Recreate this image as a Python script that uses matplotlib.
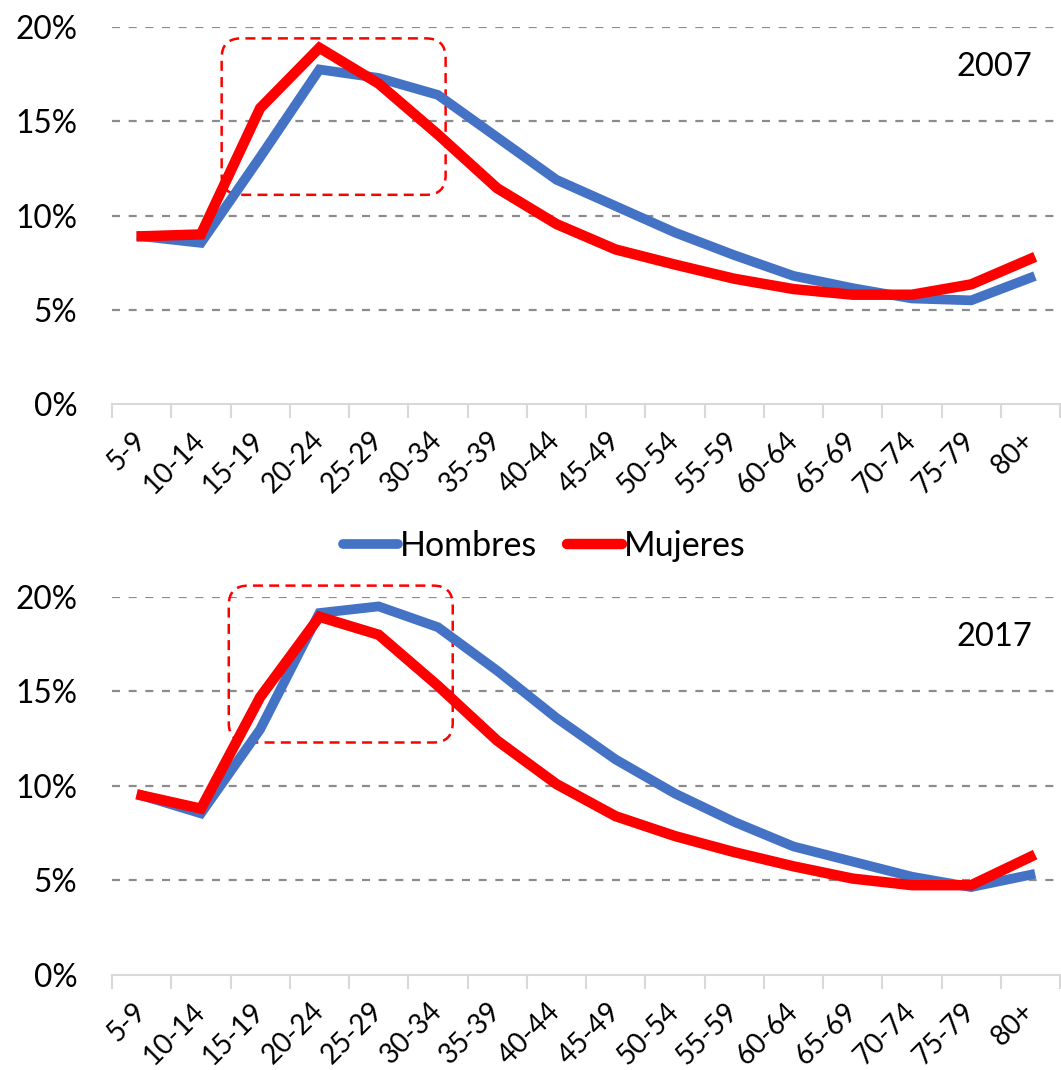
import numpy as np
import matplotlib
matplotlib.use("Agg")
import matplotlib.pyplot as plt
from matplotlib.patches import FancyBboxPatch

plt.rcParams['font.family'] = ['Lato', 'DejaVu Sans']

# Datos
grupos = ['5-9', '10-14', '15-19', '20-24', '25-29', '30-34', '35-39', '40-44',
          '45-49', '50-54', '55-59', '60-64', '65-69', '70-74', '75-79', '80+']

hombres_2007 = [8.9, 8.55, 13.1, 17.75, 17.3, 16.4, 14.15, 11.9,
                10.5, 9.1, 7.9, 6.8, 6.15, 5.6, 5.5, 6.7]
mujeres_2007 = [8.9, 9.0, 15.7, 18.9, 17.0, 14.3, 11.45, 9.55,
                8.2, 7.4, 6.65, 6.1, 5.8, 5.8, 6.35, 7.7]

hombres_2017 = [9.5, 8.55, 13.0, 19.15, 19.5, 18.4, 16.1, 13.6,
                11.4, 9.6, 8.1, 6.8, 6.0, 5.2, 4.65, 5.3]
mujeres_2017 = [9.5, 8.8, 14.7, 18.95, 18.0, 15.3, 12.4, 10.1,
                8.4, 7.35, 6.5, 5.75, 5.1, 4.75, 4.75, 6.25]

# Recuadros resaltados: (x0, x1, y0, y1) en unidades de datos
recuadro_2007 = (1.35, 5.13, 11.1, 19.4)
recuadro_2017 = (1.47, 5.25, 12.3, 20.6)

AZUL = '#4472C4'
ROJO = '#FF0000'

fig = plt.figure(figsize=(10.61, 10.70), dpi=100)
ax1 = fig.add_axes([0.1056, 0.6224, 0.8935, 0.3523])
ax2 = fig.add_axes([0.1056, 0.0888, 0.8935, 0.3533])


def dibujar(ax, hombres, mujeres, recuadro, anio):
    x = np.arange(len(grupos))
    ax.set_xlim(-0.5, len(grupos) - 0.5)
    ax.set_ylim(0, 20)

    for v in [5, 10, 15, 20]:
        ax.axhline(v, color='#8C8C8C', lw=1.6, ls=(0, (3.6, 3.9)), zorder=1)

    # recuadro redondeado
    fig.canvas.draw()
    bb = ax.get_window_extent()
    px_x = bb.width / len(grupos)
    px_y = bb.height / 20
    x0, x1, y0, y1 = recuadro
    caja = FancyBboxPatch((x0, y0), x1 - x0, y1 - y0,
                          boxstyle='round,pad=0,rounding_size=0.33',
                          mutation_aspect=px_x / px_y,
                          fill=False, ec=ROJO, lw=1.8, ls=(0, (4, 2.5)),
                          zorder=2, clip_on=False)
    ax.add_patch(caja)

    ax.plot(x, hombres, color=AZUL, lw=7, zorder=3, solid_joinstyle='miter')
    ax.plot(x, mujeres, color=ROJO, lw=7.5, zorder=4, solid_joinstyle='miter')

    for s in ['top', 'right', 'left']:
        ax.spines[s].set_visible(False)
    ax.spines['bottom'].set_color('#D9D9D9')
    ax.spines['bottom'].set_linewidth(1.5)

    ax.set_yticks([0, 5, 10, 15, 20])
    ax.set_yticklabels(['0%', '5%', '10%', '15%', '20%'], fontsize=22.8)
    ax.tick_params(axis='y', length=0, pad=25)

    ax.set_xticks(x)
    ax.set_xticklabels(grupos, fontsize=20, rotation=45,
                       ha='right', va='center', rotation_mode='anchor')
    ax.tick_params(axis='x', which='major', length=0, pad=23)
    ax.set_xticks(np.arange(-0.5, len(grupos)), minor=True)
    ax.tick_params(axis='x', which='minor', length=10, width=1.5, color='#D9D9D9')

    ax.text(0.931, 0.893, anio, transform=ax.transAxes, fontsize=23.5,
            ha='center', va='center')
    return ax


dibujar(ax1, hombres_2007, mujeres_2007, recuadro_2007, '2007')
dibujar(ax2, hombres_2017, mujeres_2017, recuadro_2017, '2017')

h1, = ax1.plot([], [], color=AZUL, lw=7, solid_capstyle='round')
h2, = ax1.plot([], [], color=ROJO, lw=7.5, solid_capstyle='round')
fig.legend([h1, h2], ['Hombres', 'Mujeres'], loc='center',
           bbox_to_anchor=(0.513, 0.49), ncol=2, frameon=False, fontsize=24.5,
           handlelength=1.6, handletextpad=0.05, columnspacing=0.9)

fig.savefig('out.png', dpi=100)
